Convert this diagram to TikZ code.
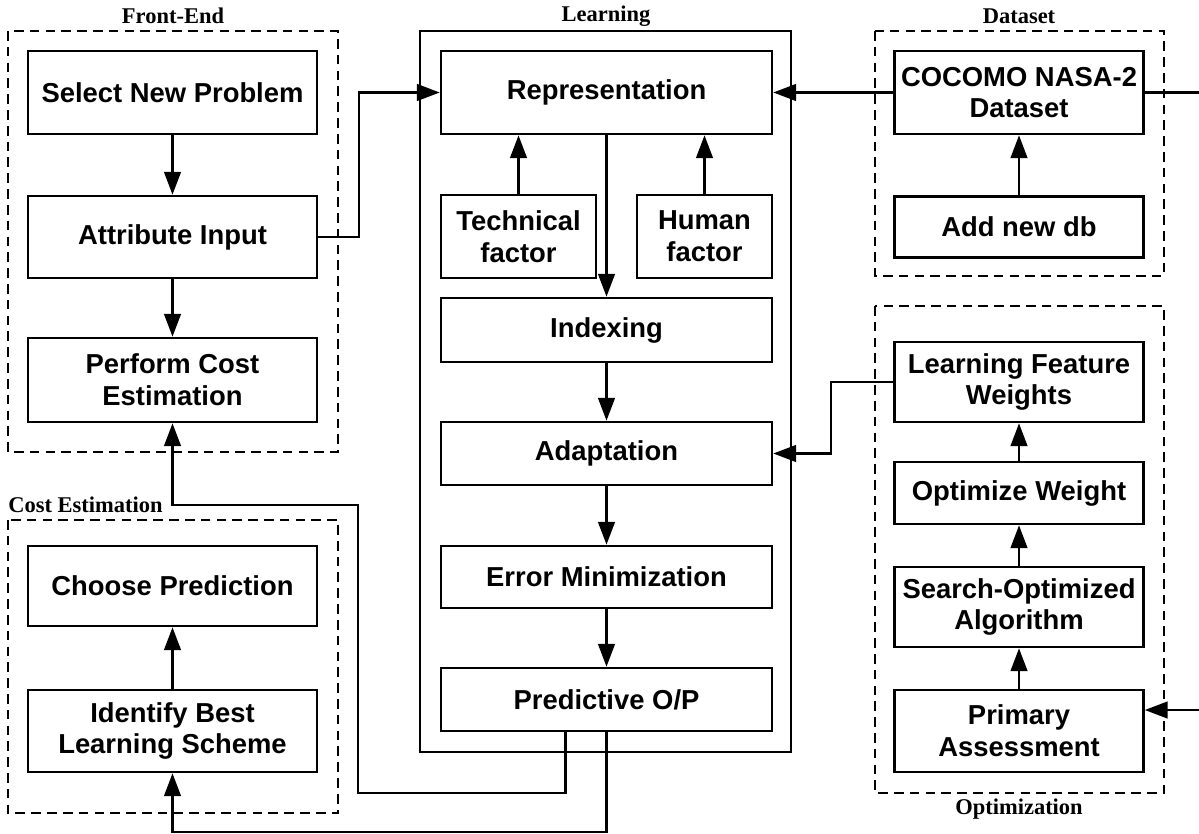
\documentclass[tikz,border=0pt]{standalone}
\usepackage{fontspec}
\setmainfont{Liberation Serif}
\setsansfont{Liberation Sans}
\usetikzlibrary{arrows.meta}

\tikzset{
  blk/.style={draw,line width=1.5pt,align=center,inner sep=0pt,
    font=\sffamily\bfseries\fontsize{15.6}{18}\selectfont},
  grp/.style={line width=0.7pt,dash pattern=on 5.5pt off 3.5pt},
  ttl/.style={font=\bfseries\fontsize{12.8}{14}\selectfont},
  link/.style={line width=1.3pt},
  flow/.style={line width=1.3pt,-{Triangle[length=13pt,width=9.5pt]}},
}

\begin{document}
\begin{tikzpicture}[x=0.02cm,y=-0.02cm]
\useasboundingbox (0,0) rectangle (1199,834);

% Front-End
\draw[grp] (8,31) rectangle (338,452);
\node[ttl] (feT) at (173,16) {Front-End};
\node[blk,minimum width=5.78cm,minimum height=1.66cm] (sel) at (172.5,92.5) {Select New Problem};
\node[blk,minimum width=5.78cm,minimum height=1.64cm] (attr) at (172.5,237) {Attribute Input};
\node[blk,minimum width=5.78cm,minimum height=1.68cm] (perf) at (172.5,380) {Perform Cost\\Estimation};
\draw[flow] (sel) -- (attr);
\draw[flow] (attr) -- (perf);

% Cost Estimation
\draw[grp] (8,520) rectangle (338,813);
\node[ttl,anchor=west,inner sep=0pt] (ceT) at (8,505) {Cost Estimation};
\node[blk,minimum width=5.78cm,minimum height=1.6cm] (choose) at (172.5,586) {Choose Prediction};
\node[blk,minimum width=5.78cm,minimum height=1.64cm] (ident) at (172.5,731) {Identify Best\\Learning Scheme};
\draw[flow] (ident) -- (choose);

% Learning
\draw[line width=0.7pt] (420,31) rectangle (791,752);
\node[ttl] (lnT) at (606,16) {Learning};
\node[blk,minimum width=6.62cm,minimum height=1.66cm] (repr) at (606.5,92.5) {Representation};
\node[blk,minimum width=3.1cm,minimum height=1.66cm] (tech) at (518.5,236.5) {Technical\\factor};
\node[blk,minimum width=2.7cm,minimum height=1.66cm] (human) at (704.5,236.5) {Human\\factor};
\node[blk,minimum width=6.62cm,minimum height=1.28cm] (idx) at (606.5,330) {Indexing};
\node[blk,minimum width=6.62cm,minimum height=1.26cm] (adapt) at (606.5,453.5) {Adaptation};
\node[blk,minimum width=6.62cm,minimum height=1.24cm] (err) at (606.5,577) {Error Minimization};
\node[blk,minimum width=6.62cm,minimum height=1.26cm] (pred) at (606.5,699.5) {Predictive O/P};
\draw[flow] (tech.north) -- (tech.north |- repr.south);
\draw[flow] (human.north) -- (human.north |- repr.south);
\draw[flow] (repr) -- (idx);
\draw[flow] (idx) -- (adapt);
\draw[flow] (adapt) -- (err);
\draw[flow] (err) -- (pred);

% Dataset
\draw[grp] (875,31) rectangle (1164,276);
\node[ttl] (dsT) at (1019,16) {Dataset};
\node[blk,minimum width=4.98cm,minimum height=1.66cm] (coco) at (1019,92.5) {COCOMO NASA-2\\Dataset};
\node[blk,minimum width=4.98cm,minimum height=1.22cm] (add) at (1019,227) {Add new db};
\draw[flow] (add) -- (coco);

% Optimization
\draw[grp] (875,306) rectangle (1164,793);
\node[ttl] (opT) at (1019,809) {Optimization};
\node[blk,minimum width=4.98cm,minimum height=1.6cm] (lfw) at (1019,382) {Learning Feature\\Weights};
\node[blk,minimum width=4.98cm,minimum height=1.24cm] (opt) at (1019,493) {Optimize Weight};
\node[blk,minimum width=4.98cm,minimum height=1.6cm] (search) at (1019,607) {Search-Optimized\\Algorithm};
\node[blk,minimum width=4.98cm,minimum height=1.64cm] (prim) at (1019,731) {Primary\\Assessment};
\draw[flow] (prim) -- (search);
\draw[flow] (search) -- (opt);
\draw[flow] (opt) -- (lfw);

% Links between groups
\coordinate (edgeA) at (1199,92.5);
\coordinate (edgeB) at (1199,710);
\coordinate (lowA) at (358,793);
\coordinate (midA) at (358,505);
\coordinate (lowB) at (0,832);
\draw[flow] (attr.east) -- ++(41,0) |- (repr.west);
\draw[flow] (coco.west) -- (repr.east);
\draw[link] (coco.east) -- (edgeA);
\draw[flow] (edgeB) -- (prim.east |- edgeB);
\draw[flow] (lfw.west) -- ++(-62,0) |- (adapt.east);
\draw[flow] ([xshift=-0.82cm]pred.south) |- (lowA) -- (midA) -| (perf.south);
\draw[flow] (pred.south) |- (lowB -| ident.south) -- (ident.south);

\end{tikzpicture}
\end{document}
